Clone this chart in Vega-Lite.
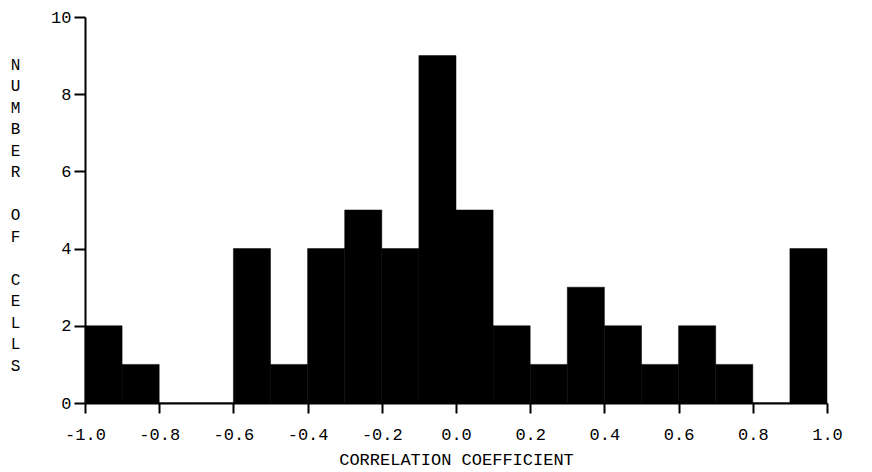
{
  "$schema": "https://vega.github.io/schema/vega-lite/v6.json",
  "width": 742,
  "height": 386,
  "autosize": {"type": "none"},
  "padding": {"left": 85, "top": 17, "right": 45, "bottom": 69},
  "background": "white",
  "config": {
    "view": {"stroke": null},
    "font": "Liberation Mono",
    "axis": {
      "grid": false,
      "domainColor": "black",
      "domainWidth": 2,
      "tickColor": "black",
      "tickWidth": 2,
      "labelColor": "black",
      "titleColor": "black",
      "labelFont": "Liberation Mono",
      "titleFont": "Liberation Mono",
      "labelFontSize": 17,
      "titleFontSize": 17,
      "titleFontWeight": "normal"
    }
  },
  "data": {
    "values": [
      {"lo": -1.0, "hi": -0.9, "count": 2},
      {"lo": -0.9, "hi": -0.8, "count": 1},
      {"lo": -0.8, "hi": -0.7, "count": 0},
      {"lo": -0.7, "hi": -0.6, "count": 0},
      {"lo": -0.6, "hi": -0.5, "count": 4},
      {"lo": -0.5, "hi": -0.4, "count": 1},
      {"lo": -0.4, "hi": -0.3, "count": 4},
      {"lo": -0.3, "hi": -0.2, "count": 5},
      {"lo": -0.2, "hi": -0.1, "count": 4},
      {"lo": -0.1, "hi": 0.0, "count": 9},
      {"lo": 0.0, "hi": 0.1, "count": 5},
      {"lo": 0.1, "hi": 0.2, "count": 2},
      {"lo": 0.2, "hi": 0.3, "count": 1},
      {"lo": 0.3, "hi": 0.4, "count": 3},
      {"lo": 0.4, "hi": 0.5, "count": 2},
      {"lo": 0.5, "hi": 0.6, "count": 1},
      {"lo": 0.6, "hi": 0.7, "count": 2},
      {"lo": 0.7, "hi": 0.8, "count": 1},
      {"lo": 0.8, "hi": 0.9, "count": 0},
      {"lo": 0.9, "hi": 1.0, "count": 4}
    ]
  },
  "mark": {"type": "rect", "color": "black", "stroke": "black", "strokeWidth": 0.5},
  "encoding": {
    "x": {
      "field": "lo",
      "type": "quantitative",
      "scale": {"domain": [-1, 1], "nice": false, "zero": false},
      "axis": {
        "values": [-1, -0.8, -0.6, -0.4, -0.2, 0, 0.2, 0.4, 0.6, 0.8, 1],
        "labelExpr": "replace(format(datum.value, '.1f'), '\u2212', '-')",
        "tickSize": 10,
        "labelPadding": 13,
        "labelFlush": false,
        "labelOverlap": false,
        "title": "CORRELATION COEFFICIENT",
        "titlePadding": 9
      }
    },
    "x2": {"field": "hi"},
    "y": {
      "field": "count",
      "type": "quantitative",
      "scale": {"domain": [0, 10], "nice": false},
      "axis": {
        "values": [0, 2, 4, 6, 8, 10],
        "tickSize": 11,
        "labelPadding": 3,
        "labelFlush": false,
        "labelOverlap": false,
        "title": ["N", "U", "M", "B", "E", "R", "\u2800", "O", "F", "\u2800", "C", "E", "L", "L", "S"],
        "titleAngle": 0,
        "titleAlign": "center",
        "titleBaseline": "middle",
        "titleX": -70,
        "titleY": 47,
        "titleLineHeight": 21.5,
        "titleFontSize": 16
      }
    },
    "y2": {"datum": 0}
  }
}
